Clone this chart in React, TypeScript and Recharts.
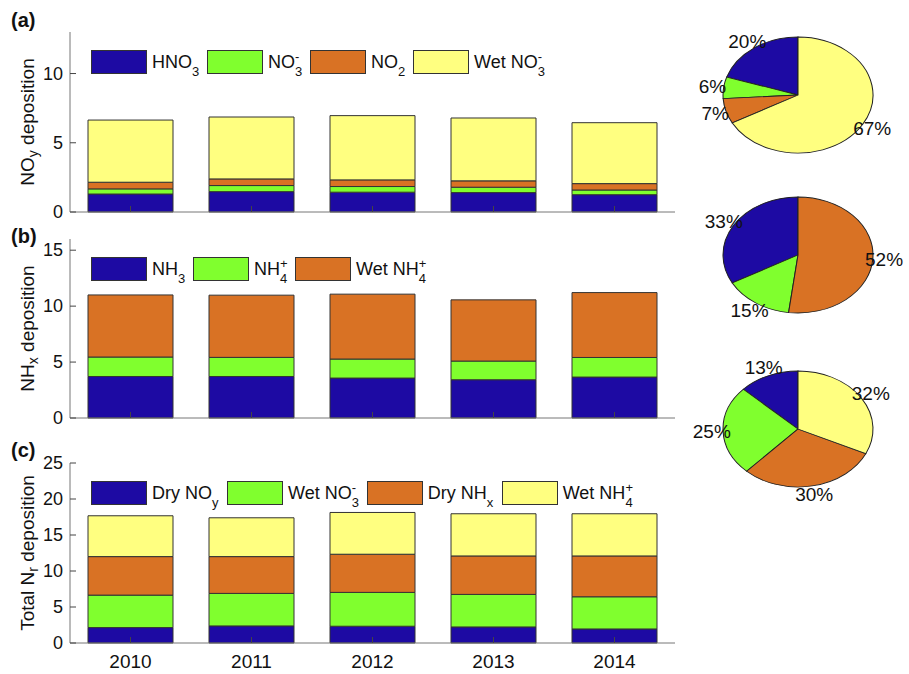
import React from 'react';
import { Bar, BarChart, Cell, Legend, Pie, PieChart, XAxis, YAxis } from 'recharts';

const years = ['2010', '2011', '2012', '2013', '2014'];

// (a) NOy deposition
const hno3 = [1.3, 1.47, 1.43, 1.4, 1.25];
const no3Dry = [0.37, 0.44, 0.41, 0.39, 0.34];
const no2 = [0.48, 0.48, 0.48, 0.46, 0.46];
const wetNo3 = [4.49, 4.47, 4.64, 4.54, 4.4];

// (b) NHx deposition
const nh3 = [3.71, 3.71, 3.57, 3.42, 3.66];
const nh4Dry = [1.74, 1.71, 1.7, 1.67, 1.75];
const wetNh4 = [5.55, 5.56, 5.8, 5.47, 5.8];

// (c) total Nr deposition
const dryNoy = [2.14, 2.37, 2.33, 2.23, 1.95];
const wetNo3Total = [4.51, 4.52, 4.7, 4.52, 4.47];
const dryNhx = [5.35, 5.11, 5.3, 5.34, 5.67];
const wetNh4Total = [5.67, 5.39, 5.8, 5.86, 5.86];

// pie shares (%)
const pieA = [20, 6, 7, 67];
const pieB = [33, 15, 52];
const pieC = [13, 25, 30, 32];

const ticksA = [0, 5, 10];
const ticksB = [0, 5, 10, 15];
const ticksC = [0, 5, 10, 15, 20, 25];

const BLUE = '#1d0aa3';
const GREEN = '#80ff2e';
const ORANGE = '#d97224';
const YELLOW = '#ffff80';
const EDGE = '#333';
const FONT = '"Liberation Sans", Arial, sans-serif';

const dataA = years.map((year, i) => ({ year, hno3: hno3[i], no3: no3Dry[i], no2: no2[i], wet: wetNo3[i] }));
const dataB = years.map((year, i) => ({ year, nh3: nh3[i], nh4: nh4Dry[i], wet: wetNh4[i] }));
const dataC = years.map((year, i) => ({
  year,
  dryNoy: dryNoy[i],
  wetNo3: wetNo3Total[i],
  dryNhx: dryNhx[i],
  wetNh4: wetNh4Total[i],
}));

// MATLAB-style stacked sub/superscript
const Chem = ({ base, sub, sup }: any) => (
  <span style={{ whiteSpace: 'nowrap' }}>
    {base}
    <span style={{ display: 'inline-block', position: 'relative', width: 9, height: 18 }}>
      {sup && <span style={{ position: 'absolute', left: 0, top: 0, fontSize: 13, lineHeight: '13px' }}>{sup}</span>}
      {sub && <span style={{ position: 'absolute', left: 0, top: 15, fontSize: 13, lineHeight: '13px' }}>{sub}</span>}
    </span>
  </span>
);

const LegendRow = ({ items }: any) => (
  <div style={{ display: 'flex', alignItems: 'center', fontFamily: FONT, fontSize: 18, color: '#111' }}>
    {items.map((it: any, i: number) => (
      <div key={i} style={{ display: 'flex', alignItems: 'center', marginRight: 6 }}>
        <div style={{ width: 54, height: 22, background: it.color, border: `1px solid ${EDGE}`, marginRight: 5 }} />
        <span style={{ lineHeight: '24px' }}>{it.label}</span>
      </div>
    ))}
  </div>
);

const AxisTitle = ({ parts, plotTop, plotH }: any) => {
  const x = 27;
  const y = plotTop + plotH / 2;
  return (
    <text
      x={x}
      y={y}
      transform={`rotate(-90 ${x} ${y})`}
      textAnchor='middle'
      dominantBaseline='central'
      fontSize={19}
      fontFamily={FONT}
      fill='#111'
    >
      {parts}
    </text>
  );
};

const StackPanel = ({ top, height, marginTop, xHeight, yMax, yTicks, data, series, legendTop, legendItems, title, showYears }: any) => {
  const plotH = height - marginTop - xHeight;
  const bottomTick = ({ x, y, payload }: any) => (
    <g>
      <line x1={x} y1={y} x2={x} y2={y - 6} stroke='#444' />
      {showYears && (
        <text x={x} y={y + 25} textAnchor='middle' fontSize={19} fontFamily={FONT} fill='#111'>
          {payload.value}
        </text>
      )}
    </g>
  );
  const topTick = ({ x, y }: any) => <line x1={x} y1={y} x2={x} y2={y + 6} stroke='#444' />;
  const leftTick = ({ x, y, payload }: any) => (
    <g>
      <line x1={x} y1={y} x2={x + 6} y2={y} stroke='#444' />
      <text x={x - 7} y={y} textAnchor='end' dominantBaseline='central' fontSize={18} fontFamily={FONT} fill='#111'>
        {payload.value}
      </text>
    </g>
  );
  const rightTick = ({ x, y }: any) => <line x1={x} y1={y} x2={x - 6} y2={y} stroke='#444' />;

  return (
    <div style={{ position: 'absolute', left: 0, top }}>
      <BarChart width={700} height={height} data={data} margin={{ top: marginTop, right: 25, bottom: 0, left: 0 }} barSize={85}>
        <XAxis dataKey='year' height={xHeight} tickSize={0} tickMargin={0} tick={bottomTick} axisLine={{ stroke: '#777' }} interval={0} />
        <XAxis xAxisId='top' dataKey='year' orientation='top' height={0} tickSize={0} tickMargin={0} tick={topTick} axisLine={{ stroke: '#777' }} interval={0} />
        <YAxis
          type='number'
          domain={[0, yMax]}
          ticks={yTicks}
          width={70}
          tickSize={0}
          tickMargin={0}
          tick={leftTick}
          axisLine={{ stroke: '#777' }}
          interval={0}
          label={{ content: () => <AxisTitle parts={title} plotTop={marginTop} plotH={plotH} /> }}
        />
        <YAxis
          yAxisId='right'
          orientation='right'
          type='number'
          domain={[0, yMax]}
          ticks={yTicks}
          width={0}
          tickSize={0}
          tickMargin={0}
          tick={rightTick}
          axisLine={{ stroke: '#777' }}
          interval={0}
        />
        {series.map((s: any) => (
          <Bar key={s.key} dataKey={s.key} stackId='s' fill={s.color} stroke={EDGE} strokeWidth={1} isAnimationActive={false} />
        ))}
        <Legend
          layout='horizontal'
          verticalAlign='middle'
          align='center'
          wrapperStyle={{ left: 91, top: legendTop, width: 'auto', height: 'auto' }}
          content={() => <LegendRow items={legendItems} />}
        />
      </BarChart>
    </div>
  );
};

const RADIAN = Math.PI / 180;
const SCALE_X = 1.293;
const renderPieLabel = ({ cx, cy, midAngle, outerRadius, value }: any) => {
  const r = outerRadius * 1.15;
  const x = cx + r * Math.cos(-midAngle * RADIAN);
  const y = cy + r * Math.sin(-midAngle * RADIAN);
  return (
    <text
      x={0}
      y={0}
      transform={`translate(${x} ${y}) scale(${1 / SCALE_X} 1)`}
      textAnchor='middle'
      dominantBaseline='central'
      fontSize={19}
      fontFamily={FONT}
      fill='#111'
    >
      {`${value}%`}
    </text>
  );
};

const PieBlock = ({ values, colors, centerY }: any) => {
  const data = values.map((v: number, i: number) => ({ name: `s${i}`, value: v }));
  return (
    <div
      style={{
        position: 'absolute',
        left: 798 - 110,
        top: centerY - 90,
        width: 220,
        height: 180,
        transform: `scaleX(${SCALE_X})`,
        transformOrigin: 'center',
      }}
    >
      <PieChart width={220} height={180} margin={{ top: 0, right: 0, bottom: 0, left: 0 }}>
        <Pie
          data={data}
          dataKey='value'
          cx={110}
          cy={90}
          outerRadius={58}
          startAngle={90}
          endAngle={450}
          stroke='#222'
          strokeWidth={0.8}
          labelLine={false}
          label={renderPieLabel}
          isAnimationActive={false}
        >
          {data.map((_: any, i: number) => (
            <Cell key={`cell-${i}`} fill={colors[i]} />
          ))}
        </Pie>
      </PieChart>
    </div>
  );
};

const panelLabel = (text: string, top: number) => (
  <div style={{ position: 'absolute', left: 11, top, fontSize: 20, fontWeight: 'bold', fontFamily: FONT, color: '#111' }}>{text}</div>
);

const App = () => (
  <div style={{ position: 'absolute', left: 0, top: 0, width: 909, height: 674, background: '#fff', fontFamily: FONT, overflow: 'hidden' }}>
    {panelLabel('(a)', 9)}
    {panelLabel('(b)', 225)}
    {panelLabel('(c)', 439)}
    <StackPanel
      top={0}
      height={230}
      marginTop={32}
      xHeight={18}
      yMax={13}
      yTicks={ticksA}
      data={dataA}
      series={[
        { key: 'hno3', color: BLUE },
        { key: 'no3', color: GREEN },
        { key: 'no2', color: ORANGE },
        { key: 'wet', color: YELLOW },
      ]}
      legendTop={50}
      legendItems={[
        { color: BLUE, label: <Chem base='HNO' sub='3' /> },
        { color: GREEN, label: <Chem base='NO' sub='3' sup='-' /> },
        { color: ORANGE, label: <Chem base='NO' sub='2' /> },
        { color: YELLOW, label: <Chem base='Wet NO' sub='3' sup='-' /> },
      ]}
      title={[
        <tspan key='a'>NO</tspan>,
        <tspan key='b' dy={6} fontSize={14}>y</tspan>,
        <tspan key='c' dy={-6}> deposition</tspan>,
      ]}
      showYears={false}
    />
    <StackPanel
      top={220}
      height={210}
      marginTop={19}
      xHeight={12}
      yMax={16}
      yTicks={ticksB}
      data={dataB}
      series={[
        { key: 'nh3', color: BLUE },
        { key: 'nh4', color: GREEN },
        { key: 'wet', color: ORANGE },
      ]}
      legendTop={37}
      legendItems={[
        { color: BLUE, label: <Chem base='NH' sub='3' /> },
        { color: GREEN, label: <Chem base='NH' sub='4' sup='+' /> },
        { color: ORANGE, label: <Chem base='Wet NH' sub='4' sup='+' /> },
      ]}
      title={[
        <tspan key='a'>NH</tspan>,
        <tspan key='b' dy={6} fontSize={14}>x</tspan>,
        <tspan key='c' dy={-6}> deposition</tspan>,
      ]}
      showYears={false}
    />
    <StackPanel
      top={420}
      height={254}
      marginTop={43}
      xHeight={31}
      yMax={25}
      yTicks={ticksC}
      data={dataC}
      series={[
        { key: 'dryNoy', color: BLUE },
        { key: 'wetNo3', color: GREEN },
        { key: 'dryNhx', color: ORANGE },
        { key: 'wetNh4', color: YELLOW },
      ]}
      legendTop={61}
      legendItems={[
        { color: BLUE, label: <Chem base='Dry NO' sub='y' /> },
        { color: GREEN, label: <Chem base='Wet NO' sub='3' sup='-' /> },
        { color: ORANGE, label: <Chem base='Dry NH' sub='x' /> },
        { color: YELLOW, label: <Chem base='Wet NH' sub='4' sup='+' /> },
      ]}
      title={[
        <tspan key='a'>Total N</tspan>,
        <tspan key='b' dy={6} fontSize={14}>r</tspan>,
        <tspan key='c' dy={-6}> deposition</tspan>,
      ]}
      showYears={true}
    />
    <PieBlock values={pieA} colors={[BLUE, GREEN, ORANGE, YELLOW]} centerY={95} />
    <PieBlock values={pieB} colors={[BLUE, GREEN, ORANGE]} centerY={254.5} />
    <PieBlock values={pieC} colors={[BLUE, GREEN, ORANGE, YELLOW]} centerY={429} />
  </div>
);

export default App;
